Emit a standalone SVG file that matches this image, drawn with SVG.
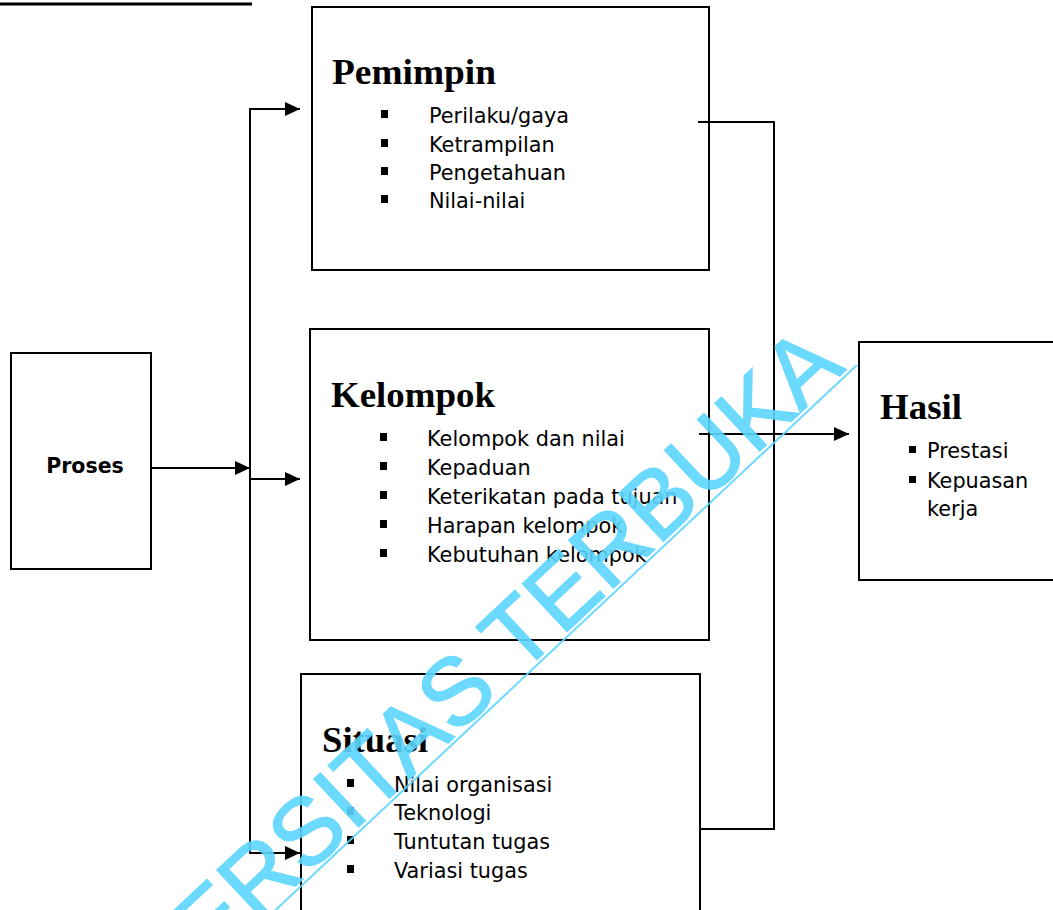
<svg xmlns="http://www.w3.org/2000/svg" width="1053" height="910" viewBox="0 0 1053 910">
<defs>
<style>
.box{fill:#fff;stroke:#000;stroke-width:2}
.ln{fill:none;stroke:#000;stroke-width:2}
.hd{font-family:"Liberation Serif",serif;font-weight:bold;font-size:35px;fill:#000}
.it{font-family:"DejaVu Sans",sans-serif;font-size:20.8px;fill:#000}
.pr{font-family:"DejaVu Sans",sans-serif;font-weight:bold;font-size:20.5px;fill:#000}
.bl{fill:#000}
.wm{font-family:"Liberation Sans",Arial,sans-serif;font-size:95px;fill:#5dd5ff;stroke:#5dd5ff;stroke-width:1.5;opacity:0.9}
</style>
<marker id="ah" markerWidth="16" markerHeight="14" refX="15" refY="7" orient="auto" markerUnits="userSpaceOnUse">
<path d="M0,0 L15,7 L0,14 Z" fill="#000"/>
</marker>
</defs>
<rect width="1053" height="910" fill="#fff"/>
<line x1="0" y1="4" x2="252" y2="4" stroke="#000" stroke-width="3"/>

<g id="pemimpin">
<rect class="box" x="312" y="7" width="397" height="263"/>
<text class="hd" x="332" y="84" textLength="164" lengthAdjust="spacingAndGlyphs">Pemimpin</text>
<rect class="bl" x="381" y="110" width="7" height="8"/>
<rect class="bl" x="381" y="139" width="7" height="8"/>
<rect class="bl" x="381" y="167" width="7" height="8"/>
<rect class="bl" x="381" y="195" width="7" height="8"/>
<text class="it" x="429" y="123">Perilaku/gaya</text>
<text class="it" x="429" y="152">Ketrampilan</text>
<text class="it" x="429" y="180">Pengetahuan</text>
<text class="it" x="429" y="208">Nilai-nilai</text>
</g>

<g id="kelompok">
<rect class="box" x="310" y="329" width="399" height="311"/>
<text class="hd" x="331" y="407" textLength="164" lengthAdjust="spacingAndGlyphs">Kelompok</text>
<rect class="bl" x="380" y="433" width="7" height="8"/>
<rect class="bl" x="380" y="462" width="7" height="8"/>
<rect class="bl" x="380" y="491" width="7" height="8"/>
<rect class="bl" x="380" y="520" width="7" height="8"/>
<rect class="bl" x="380" y="549" width="7" height="8"/>
<text class="it" x="427" y="446">Kelompok dan nilai</text>
<text class="it" x="427" y="475">Kepaduan</text>
<text class="it" x="427" y="504">Keterikatan pada tujuan</text>
<text class="it" x="427" y="533">Harapan kelompok</text>
<text class="it" x="427" y="562">Kebutuhan kelompok</text>
</g>

<g id="situasi">
<rect class="box" x="301" y="674" width="399" height="260"/>
<text class="hd" x="322" y="752" textLength="106" lengthAdjust="spacingAndGlyphs">Situasi</text>
<rect class="bl" x="347" y="779" width="7" height="8"/>
<rect class="bl" x="347" y="807" width="7" height="8"/>
<rect class="bl" x="347" y="836" width="7" height="8"/>
<rect class="bl" x="347" y="865" width="7" height="8"/>
<text class="it" x="394" y="792">Nilai organisasi</text>
<text class="it" x="394" y="820">Teknologi</text>
<text class="it" x="394" y="849">Tuntutan tugas</text>
<text class="it" x="394" y="878">Variasi tugas</text>
</g>

<g id="proses">
<rect class="box" x="11" y="353" width="140" height="216"/>
<text class="pr" x="85" y="473" text-anchor="middle">Proses</text>
</g>

<g id="hasil">
<rect class="box" x="859" y="342" width="210" height="238"/>
<text class="hd" x="880" y="419" textLength="82" lengthAdjust="spacingAndGlyphs">Hasil</text>
<rect class="bl" x="909" y="446" width="7" height="7"/>
<rect class="bl" x="909" y="476" width="7" height="7"/>
<text class="it" x="927" y="458">Prestasi</text>
<text class="it" x="927" y="488">Kepuasan</text>
<text class="it" x="927" y="516">kerja</text>
</g>

<g id="connectors">
<line class="ln" x1="151" y1="468" x2="250" y2="468" marker-end="url(#ah)"/>
<polyline class="ln" points="250,109 250,853"/>
<line class="ln" x1="249" y1="109" x2="300" y2="109" marker-end="url(#ah)"/>
<line class="ln" x1="250" y1="479" x2="300" y2="479" marker-end="url(#ah)"/>
<line class="ln" x1="249" y1="853" x2="300" y2="853" marker-end="url(#ah)"/>
<polyline class="ln" points="698,122 774,122 774,829 700,829"/>
<line class="ln" x1="699" y1="434" x2="849" y2="434" marker-end="url(#ah)"/>
</g>

<g id="watermark">
<text class="wm" transform="translate(209.7,966.4) rotate(-43.15)">ERSITAS TERBUKA</text>
<line x1="857" y1="365" x2="250" y2="934" stroke="#5dd5ff" stroke-opacity="0.9" stroke-width="2"/>
</g>
</svg>
